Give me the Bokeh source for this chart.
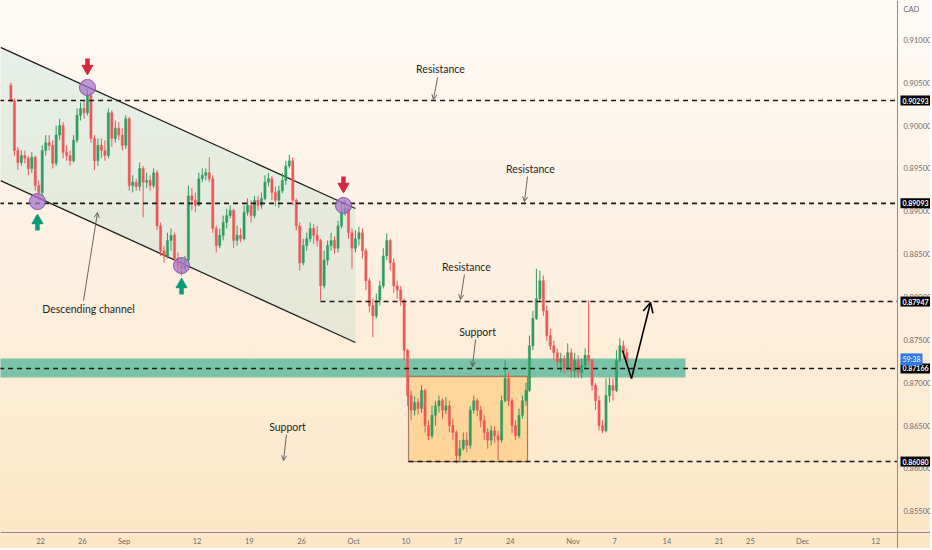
import numpy as np
from bokeh.plotting import figure
from bokeh.models import (Range1d, FixedTicker, PrintfTickFormatter, Label, Arrow,
                          OpenHead, ColumnDataSource)
from bokeh.embed import file_html
from bokeh.resources import INLINE

# ---------------- data ----------------
# x axis: trading-day index (0 = Aug 22), 3 candles per day starting at day -3
tick_days = [0, 4, 8, 15, 20, 25, 30, 35, 40, 45, 51, 55, 60, 65, 68, 73, 80]
tick_labels = ["22", "26", "Sep", "12", "19", "26", "Oct", "10", "17", "24",
               "Nov", "7", "14", "21", "25", "Dec", "12"]
y_ticks = [0.855, 0.860, 0.865, 0.870, 0.875, 0.880, 0.885, 0.890, 0.895,
           0.900, 0.905, 0.910]

start_day = -3
candles_per_day = 3
first_open = 0.9047
closes = [
    .9029, .8971, .8957, .8965, .8962, .8950, .8963, .8930, .8922, .8971,
    .8980, .8977, .8956, .8989, .9000, .8969, .8965, .8959, .8983, .9012,
    .9020, .9015, .9035, .8985, .8959, .8977, .8971, .8965, .9015, .8985,
    .8997, .8989, .8977, .9008, .8930, .8934, .8929, .8950, .8934, .8936,
    .8930, .8945, .8883, .8854, .8848, .8866, .8872, .8845, .8837, .8833,
    .8843, .8918, .8913, .8907, .8938, .8942, .8945, .8938, .8880, .8860,
    .8872, .8887, .8895, .8901, .8866, .8872, .8868, .8899, .8907, .8895,
    .8913, .8907, .8915, .8934, .8938, .8922, .8913, .8924, .8936, .8953,
    .8959, .8913, .8883, .8840, .8860, .8868, .8880, .8872, .8866, .8813,
    .8843, .8860, .8866, .8857, .8883, .8899, .8903, .8875, .8857, .8868,
    .8875, .8854, .8819, .8790, .8778, .8796, .8813, .8848, .8866, .8840,
    .8813, .8808, .8796, .8738, .8685, .8668, .8677, .8670, .8691, .8650,
    .8638, .8662, .8673, .8679, .8668, .8673, .8650, .8642, .8615, .8623,
    .8633, .8627, .8668, .8679, .8668, .8656, .8642, .8633, .8644, .8638,
    .8633, .8679, .8705, .8679, .8650, .8638, .8662, .8679, .8691, .8743,
    .8775, .8798, .8819, .8784, .8755, .8743, .8735, .8724, .8728, .8717,
    .8735, .8714, .8726, .8712, .8720, .8732, .8726, .8697, .8679, .8650,
    .8644, .8685, .8697, .8691, .8726, .8743, .8735, .8724]
highs = [
    .9050, .9032, .8975, .8971, .8971, .8965, .8969, .8965, .8936, .8977,
    .8989, .8989, .8983, .9000, .9008, .9004, .8977, .8971, .8989, .9020,
    .9027, .9029, .9043, .9039, .8989, .8985, .8985, .8983, .9020, .9018,
    .9006, .9004, .8997, .9012, .9010, .8942, .8938, .8957, .8953, .8945,
    .8942, .8950, .8948, .8887, .8860, .8875, .8880, .8875, .8852, .8845,
    .8848, .8930, .8927, .8922, .8945, .8950, .8950, .8963, .8942, .8883,
    .8880, .8895, .8903, .8907, .8903, .8883, .8880, .8907, .8915, .8913,
    .8918, .8918, .8922, .8942, .8945, .8941, .8929, .8930, .8945, .8959,
    .8966, .8963, .8915, .8887, .8868, .8875, .8887, .8885, .8883, .8868,
    .8854, .8866, .8875, .8871, .8889, .8907, .8913, .8907, .8880, .8878,
    .8882, .8880, .8857, .8822, .8798, .8804, .8819, .8857, .8874, .8868,
    .8845, .8819, .8813, .8798, .8740, .8691, .8684, .8682, .8697, .8693,
    .8656, .8673, .8679, .8685, .8682, .8683, .8679, .8658, .8644, .8633,
    .8642, .8642, .8673, .8685, .8682, .8673, .8662, .8647, .8650, .8649,
    .8644, .8685, .8726, .8712, .8682, .8656, .8670, .8685, .8700, .8755,
    .8784, .8833, .8831, .8825, .8790, .8763, .8749, .8740, .8735, .8732,
    .8746, .8740, .8735, .8732, .8728, .8740, .8796, .8728, .8700, .8685,
    .8656, .8705, .8706, .8705, .8738, .8752, .8749, .8740]
lows = [
    .9027, .8965, .8948, .8953, .8956, .8942, .8945, .8924, .8913, .8918,
    .8965, .8971, .8950, .8953, .8983, .8962, .8959, .8953, .8957, .8980,
    .9006, .9008, .9012, .8980, .8948, .8953, .8962, .8959, .8962, .8975,
    .8980, .8983, .8971, .8973, .8924, .8922, .8924, .8924, .8893, .8927,
    .8924, .8927, .8878, .8848, .8840, .8845, .8854, .8840, .8829, .8825,
    .8829, .8840, .8901, .8899, .8906, .8934, .8936, .8934, .8875, .8852,
    .8857, .8866, .8880, .8892, .8857, .8860, .8864, .8866, .8895, .8887,
    .8892, .8901, .8903, .8913, .8929, .8913, .8906, .8904, .8921, .8931,
    .8950, .8907, .8878, .8831, .8837, .8854, .8864, .8862, .8859, .8796,
    .8810, .8837, .8854, .8851, .8852, .8880, .8895, .8868, .8833, .8852,
    .8860, .8845, .8808, .8782, .8753, .8775, .8790, .8810, .8843, .8831,
    .8805, .8798, .8790, .8726, .8673, .8656, .8662, .8663, .8665, .8642,
    .8633, .8635, .8650, .8665, .8658, .8663, .8642, .8633, .8606, .8607,
    .8621, .8619, .8623, .8664, .8661, .8648, .8633, .8623, .8627, .8630,
    .8609, .8630, .8677, .8673, .8641, .8633, .8635, .8658, .8673, .8689,
    .8738, .8773, .8794, .8778, .8749, .8738, .8726, .8718, .8712, .8711,
    .8714, .8706, .8706, .8706, .8705, .8717, .8720, .8691, .8668, .8644,
    .8641, .8642, .8677, .8679, .8689, .8724, .8728, .8720]

# horizontal levels (price) and the day they start from (None = left edge)
levels = [0.90293, 0.89093, 0.87947, 0.87166, 0.86080]
level_start = [None, None, 26.82, None, 35.25]
level_tags = ["0.90293", "0.89093", "0.87947", "0.87166", "0.86080"]
timer_text = "59:38"
timer_price = 0.87272

# support zone band
zone_bottom, zone_top, zone_end = 0.87061, 0.87282, 61.78
# consolidation box
box_left, box_right, box_bottom, box_top = 35.25, 46.65, 0.86080, 0.87073
# descending channel (day, price)
ch_x = [-3.83, 30.17]
ch_upper = [0.90912, 0.89033]
ch_lower = [0.89359, 0.87469]
# touch points of the channel
touch_x = [4.50, -0.29, 13.51, 29.02]
touch_y = [0.90445, 0.89114, 0.88367, 0.89068]
touch_dir = [-1, 1, 1, -1]       # -1 = red arrow above, 1 = green arrow below
# projected path
path_x = [55.75, 56.61, 58.43]
path_y = [0.87375, 0.87049, 0.87936]
# text notes
note_text = ["Resistance", "Resistance", "Resistance", "Support", "Support", "Descending channel"]
note_x = [38.31, 46.93, 40.80, 41.86, 23.66, 4.60]
note_y = [0.90655, 0.89499, 0.88356, 0.87597, 0.86489, 0.87866]
ptr_x0 = [38.03, 46.65, 40.61, 41.67, 23.56, 4.12]
ptr_y0 = [0.90561, 0.89406, 0.88262, 0.87504, 0.86395, 0.87959]
ptr_x1 = [37.64, 46.36, 40.23, 41.38, 23.28, 5.46]
ptr_y1 = [0.90305, 0.89114, 0.87971, 0.87189, 0.86092, 0.88986]

# ---------------- figure ----------------
W, H = 930, 548
PPD = 10.44                 # pixels per trading day
X0 = -40.0 / PPD            # left edge of canvas
X1 = X0 + W / PPD           # right edge of canvas
AX_X = X0 + 897.0 / PPD     # price scale line
PPU = 8570.0                # pixels per price unit
Y1 = 0.91460                # top edge
Y0 = Y1 - H / PPU           # bottom edge
AX_Y = Y1 - 532.0 / PPU     # time scale line
px = 1.0 / PPU

p = figure(width=W, height=H, x_range=Range1d(X0, X1), y_range=Range1d(Y0, Y1),
           output_backend="svg", toolbar_location=None, y_axis_location="right",
           min_border_left=0, min_border_top=0, min_border_right=0, min_border_bottom=0)
p.background_fill_alpha = 0
p.border_fill_alpha = 0
p.outline_line_color = None
p.styles = {"background": "linear-gradient(180deg, #fdfaf5 0%, #fdf1e2 45%, #fde6c6 100%)"}
p.grid.grid_line_color = None

FONT = "Lato"

# axes (pinned inside the canvas so they take no extra room)
xa = p.xaxis[0]
xa.ticker = FixedTicker(ticks=tick_days)
xa.major_label_overrides = {k: v for k, v in zip(tick_days, tick_labels)}
xa.fixed_location = AX_Y
ya = p.yaxis[0]
ya.ticker = FixedTicker(ticks=y_ticks)
ya.formatter = PrintfTickFormatter(format="%.5f")
ya.fixed_location = AX_X
for ax in (xa, ya):
    ax.major_tick_line_color = None
    ax.minor_tick_line_color = None
    ax.major_tick_out = 0
    ax.major_tick_in = 0
    ax.minor_tick_out = 0
    ax.minor_tick_in = 0
    ax.axis_line_color = "#8c8c8c"
    ax.axis_line_width = 1
    ax.major_label_text_font = FONT
    ax.major_label_text_font_size = "7.5px"
    ax.major_label_text_color = "#6a6a6a"
xa.major_label_standoff = 4
ya.major_label_standoff = 6

# channel fill and lines
p.patch(x=[ch_x[0], ch_x[1], ch_x[1], ch_x[0]],
        y=[ch_upper[0], ch_upper[1], ch_lower[1], ch_lower[0]],
        fill_color="#4db6ac", fill_alpha=0.13, line_color=None)
p.line(ch_x, ch_upper, line_color="#1e1e1e", line_width=1.3)
p.line(ch_x, ch_lower, line_color="#1e1e1e", line_width=1.3)

# zone and box
p.quad(left=[X0 - 1], right=[zone_end], bottom=[zone_bottom], top=[zone_top],
       fill_color="#62bb9f", fill_alpha=0.85, line_color=None)
p.quad(left=[box_left], right=[box_right], bottom=[box_bottom], top=[box_top],
       fill_color="#ffb74d", fill_alpha=0.42, line_color="#9c8060", line_width=1.2)

# candles
n = min(len(closes), len(highs), len(lows))
opens = [first_open] + closes[:n - 1]
xs = [start_day + (i + 0.5) / candles_per_day for i in range(n)]
hi = [max(highs[i], opens[i], closes[i]) for i in range(n)]
lo = [min(lows[i], opens[i], closes[i]) for i in range(n)]
up = [closes[i] >= opens[i] for i in range(n)]
cols = ["#2e9d5f" if u else "#ee5757" for u in up]
src = ColumnDataSource(dict(x=xs, o=opens[:n], c=closes[:n], h=hi, l=lo,
                            top=[max(opens[i], closes[i]) for i in range(n)],
                            bot=[min(opens[i], closes[i]) for i in range(n)],
                            col=cols))
p.segment(x0="x", x1="x", y0="h", y1="l", line_color="col", line_width=1, source=src)
p.vbar(x="x", width=0.62 / candles_per_day, top="top", bottom="bot",
       fill_color="col", line_color="col", line_width=0.5, source=src)

# dashed levels
p.segment(x0=[X0 - 1 if s is None else s for s in level_start], x1=[AX_X] * len(levels),
          y0=levels, y1=levels, line_color="#1a1a1a", line_width=1.6, line_dash="5 4")

# touch circles and arrows
p.scatter(touch_x, touch_y, size=16, fill_color="#a877c9", fill_alpha=0.75,
          line_color="#8752ad", line_width=1)
for tx, ty, d in zip(touch_x, touch_y, touch_dir):
    col = "#d3283f" if d < 0 else "#0a9b76"
    s = -d  # +1 means above
    head_c = ty + s * 19 * px
    p.segment(x0=[tx], x1=[tx], y0=[ty + s * 21 * px], y1=[ty + s * 29 * px],
              line_color=col, line_width=4.5)
    p.scatter([tx], [head_c], marker="inverted_triangle" if d < 0 else "triangle",
              size=11, fill_color=col, line_color=col)

# projected path
p.line(path_x[:2], path_y[:2], line_color="#000000", line_width=1.6)
p.add_layout(Arrow(x_start=path_x[1], y_start=path_y[1], x_end=path_x[2], y_end=path_y[2],
                   line_color="#000000", line_width=1.6,
                   end=OpenHead(size=10, line_color="#000000", line_width=1.6)))

# note pointers and texts
for i in range(len(note_text)):
    p.add_layout(Arrow(x_start=ptr_x0[i], y_start=ptr_y0[i], x_end=ptr_x1[i], y_end=ptr_y1[i],
                       line_color="#555555", line_width=0.9,
                       end=OpenHead(size=5, line_color="#555555", line_width=0.9)))
    p.add_layout(Label(x=note_x[i], y=note_y[i], text=note_text[i], text_align="center",
                       text_baseline="middle", text_font=FONT, text_font_size="10.5px",
                       text_color="#1f1f1f"))

# price tags on the price scale
tag_x = AX_X + 3.0 / PPD
for lv, t in zip(levels, level_tags):
    p.add_layout(Label(x=tag_x, y=lv, text=t, text_align="left",
                       text_baseline="middle", text_font=FONT, text_font_size="7px",
                       text_color="#ffffff", text_font_style="bold",
                       background_fill_color="#000000", padding=2))
p.add_layout(Label(x=tag_x, y=timer_price, text=timer_text,
                   text_align="left", text_baseline="middle", text_font=FONT,
                   text_font_size="7px", text_color="#ffffff",
                   background_fill_color="#2e7ae6", padding=2))
p.add_layout(Label(x=AX_X + 6.0 / PPD, y=Y1 - 4 * px, text="CAD",
                   text_align="left", text_baseline="top", text_font=FONT,
                   text_font_size="7.5px", text_color="#6a6a6a"))

open("out.html", "w").write(file_html(p, INLINE))
